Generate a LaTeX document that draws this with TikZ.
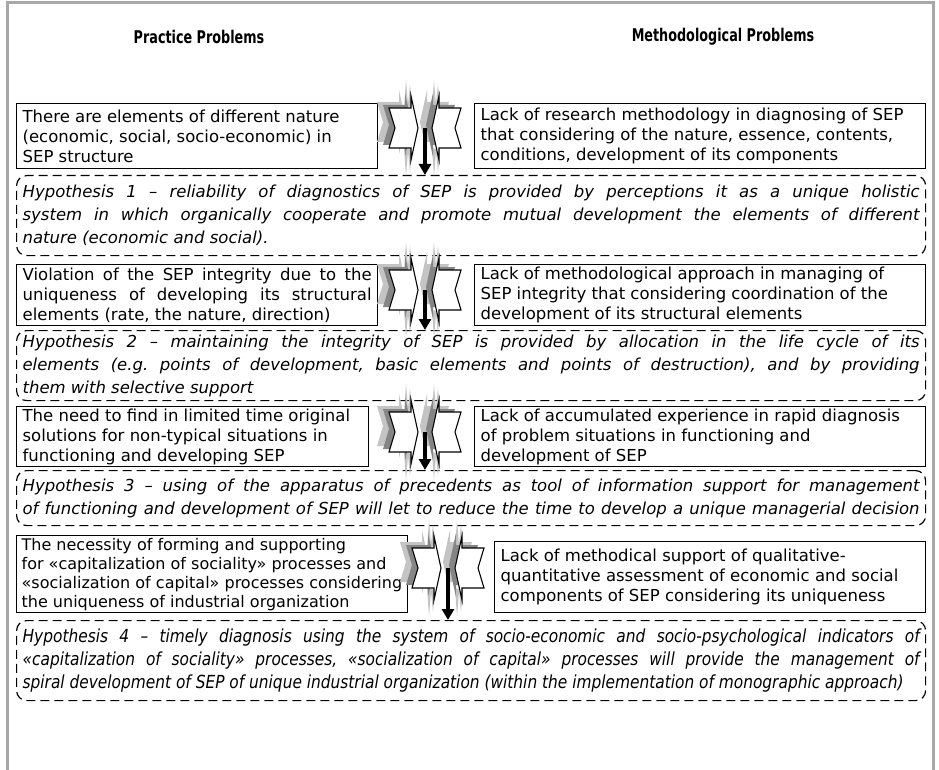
\documentclass[tikz,border=0pt]{standalone}
\usepackage{fontspec}
\setmainfont{DejaVu Sans}
\usepackage{graphicx}
\usetikzlibrary{arrows.meta}
\frenchspacing
\newsavebox\linebox
\newcommand{\lft}[2]{\sbox\linebox{#2}\ifdim\wd\linebox>#1\relax\scalebox{\fpeval{(#1)/(\the\wd\linebox)}}[1]{\usebox\linebox}\else\makebox[#1][l]{\usebox\linebox}\fi}
\newcommand{\jst}[2]{\sbox\linebox{#2}\ifdim\wd\linebox>#1\relax\scalebox{\fpeval{(#1)/(\the\wd\linebox)}}[1]{\usebox\linebox}\else\makebox[#1][s]{#2}\fi}
\definecolor{framegray}{HTML}{A8A8A8}
\definecolor{shdark}{HTML}{858585}
\definecolor{shlight}{HTML}{C4C4C4}
\newcommand{\shapepair}[2]{%
\begin{scope}[shift={(#1,#2)}]
 % light gray spikes
 \fill[shlight] (-21,-20) -- (-19,-48) -- (-17,-24) -- (-15,-44) -- (-13,-22) -- cycle;
 \fill[shlight] (-21,20) -- (-19,48) -- (-17,24) -- (-15,44) -- (-13,22) -- cycle;
 \fill[shlight] (7,-20) -- (9,-48) -- (11,-24) -- (13,-44) -- (15,-22) -- cycle;
 \fill[shlight] (7,20) -- (9,48) -- (11,24) -- (13,44) -- (15,22) -- cycle;
 % shadows
 \foreach \dx/\dy/\c in {-12/-6/shlight,-6/-3/shdark}{
  \fill[\c,shift={(\dx,\dy)}] (-36,-20) -- (-14,-20) -- (-14,-32) -- (-7,0) -- (-14,32) -- (-14,20) -- (-36,20) -- (-30,0) -- cycle;
  \fill[\c,shift={(\dx,\dy)}] (36,-20) -- (14,-20) -- (14,-32) -- (7,0) -- (14,32) -- (14,20) -- (36,20) -- (30,0) -- cycle;
 }
 \filldraw[blockshape] (-36,-20) -- (-14,-20) -- (-14,-32) -- (-7,0) -- (-14,32) -- (-14,20) -- (-36,20) -- (-30,0) -- cycle;
 \filldraw[blockshape] (36,-20) -- (14,-20) -- (14,-32) -- (7,0) -- (14,32) -- (14,20) -- (36,20) -- (30,0) -- cycle;
\end{scope}}
\begin{document}
\begin{tikzpicture}[x=1pt,y=-1pt,
  frame/.style={draw=framegray,line width=3pt},
  title/.style={font=\bfseries\fontsize{17.5}{21}\selectfont,inner sep=0pt},
  pbox/.style={draw=black,line width=1.3pt,anchor=north west,inner sep=0pt,align=left,
     font=\fontsize{16.5}{20}\selectfont},
  hyp/.style={draw=black,line width=1.2pt,dash pattern=on 9pt off 5pt,rounded corners=10pt,
     anchor=north west,inner sep=0pt,align=left,font=\itshape\fontsize{16.5}{23}\selectfont},
  blockshape/.style={fill=white,draw=black,line width=1.1pt,line join=miter},
  darrow/.style={line width=3.6pt,-{Triangle[width=12pt,length=11pt]}}]
\useasboundingbox (0,0) rectangle (939,770);
\fill[white] (0,0) rectangle (939,770);
\draw[frame] (7,772) -- (7,3) -- (933,3) -- (933,772);

\node[title] (t1) at (199,37) {\scalebox{0.73}[1]{Practice Problems}};
\node[title] (t2) at (723,37) {\scalebox{0.73}[1]{Methodological Problems}};

% row 1
\node[pbox,minimum width=361pt,minimum height=65pt] (l1) at (16,103) {%
\lft{349pt}{There are elements of different nature}\\
\lft{349pt}{(economic, social, socio-economic) in}\\
\lft{349pt}{SEP structure}};
\node[pbox,minimum width=451pt,minimum height=65pt] (r1) at (474,103) {%
\lft{439pt}{Lack of research methodology in diagnosing of SEP}\\
\lft{439pt}{that considering of the nature, essence, contents,}\\
\lft{439pt}{conditions, development of its components}};
\node[hyp,minimum width=909pt,minimum height=80pt] (h1) at (16,175) {%
\jst{897pt}{Hypothesis 1 – reliability of diagnostics of SEP is provided by perceptions it as a unique holistic}\\
\jst{897pt}{system in which organically cooperate and promote mutual development the elements of different}\\
\lft{897pt}{nature (economic and social).}};

% row 2
\node[pbox,minimum width=361pt,minimum height=61pt] (l2) at (16,264) {%
\jst{349pt}{Violation of the SEP integrity due to the}\\
\jst{349pt}{uniqueness of developing its structural}\\
\lft{349pt}{elements (rate, the nature, direction)}};
\node[pbox,minimum width=451pt,minimum height=61pt] (r2) at (474,264) {%
\lft{439pt}{Lack of methodological approach in managing of}\\
\lft{439pt}{SEP integrity that considering coordination of the}\\
\lft{439pt}{development of its structural elements}};
\node[hyp,minimum width=909pt,minimum height=70pt] (h2) at (16,330) {%
\jst{897pt}{Hypothesis 2 – maintaining the integrity of SEP is provided by allocation in the life cycle of its}\\
\jst{897pt}{elements (e.g. points of development, basic elements and points of destruction), and by providing}\\
\lft{897pt}{them with selective support}};

% row 3
\node[pbox,minimum width=352pt,minimum height=60pt] (l3) at (16,406) {%
\lft{340pt}{The need to find in limited time original}\\
\lft{340pt}{solutions for non-typical situations in}\\
\lft{340pt}{functioning and developing SEP}};
\node[pbox,minimum width=451pt,minimum height=60pt] (r3) at (474,406) {%
\lft{439pt}{Lack of accumulated experience in rapid diagnosis}\\
\lft{439pt}{of problem situations in functioning and}\\
\lft{439pt}{development of SEP}};
\node[hyp,minimum width=909pt,minimum height=55pt] (h3) at (16,470) {%
\jst{897pt}{Hypothesis 3 – using of the apparatus of precedents as tool of information support for management}\\
\jst{897pt}{of functioning and development of SEP will let to reduce the time to develop a unique managerial decision}};

% row 4
\node[pbox,minimum width=391pt,minimum height=77pt,font=\fontsize{16}{19}\selectfont] (l4) at (16,535) {%
\lft{381pt}{The necessity of forming and supporting}\\
\lft{381pt}{for «capitalization of sociality» processes and}\\
\lft{381pt}{«socialization of capital» processes considering}\\
\lft{381pt}{the uniqueness of industrial organization}};
\node[pbox,minimum width=431pt,minimum height=71pt] (r4) at (494,541) {%
\lft{419pt}{Lack of methodical support of qualitative-}\\
\lft{419pt}{quantitative assessment of economic and social}\\
\lft{419pt}{components of SEP considering its uniqueness}};
\node[hyp,minimum width=909pt,minimum height=80pt,font=\itshape\fontsize{18}{23}\selectfont] (h4) at (16,620) {%
\scalebox{0.855}[1]{\jst{1049pt}{Hypothesis 4 – timely diagnosis using the system of socio-economic and socio-psychological indicators of}}\\
\scalebox{0.855}[1]{\jst{1049pt}{«capitalization of sociality» processes, «socialization of capital» processes will provide the management of}}\\
\scalebox{0.855}[1]{\lft{1049pt}{spiral development of SEP of unique industrial organization (within the implementation of monographic approach)}}};

% arrow pairs
\shapepair{425}{128}
\shapepair{425}{290}
\shapepair{425}{432}
\shapepair{448}{568}
\coordinate (p1) at (425,128);
\coordinate (p2) at (425,290);
\coordinate (p3) at (425,432);
\coordinate (p4) at (448,568);
\draw[darrow] (p1) -- (p1 |- h1.north);
\draw[darrow] (p2) -- (p2 |- h2.north);
\draw[darrow] (p3) -- (p3 |- h3.north);
\draw[darrow] (p4) -- (p4 |- h4.north);
\end{tikzpicture}
\end{document}
